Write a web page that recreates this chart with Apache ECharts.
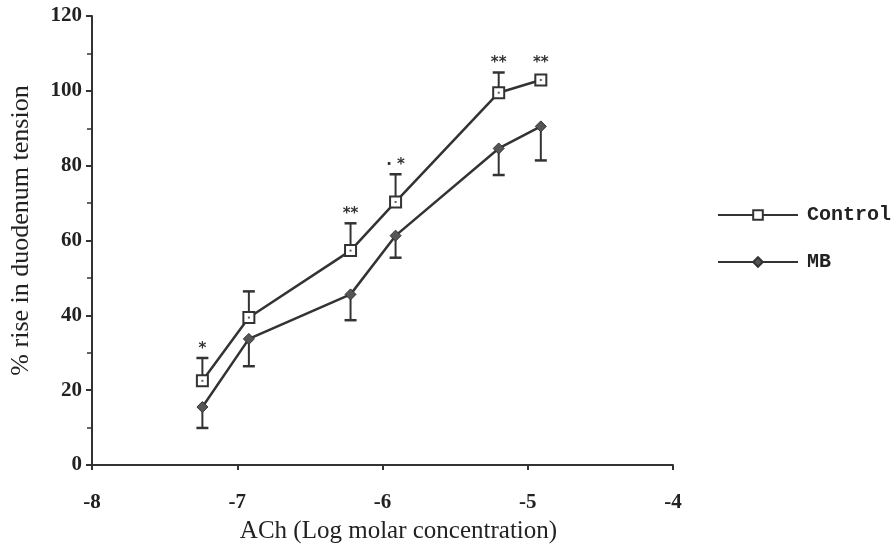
<!DOCTYPE html>
<html>
<head>
<meta charset="utf-8">
<script src="https://cdn.jsdelivr.net/npm/echarts@6/dist/echarts.min.js"></script>
<style>
  html, body { margin: 0; padding: 0; background: #fff; }
  #chart { width: 896px; height: 549px; }
</style>
</head>
<body>
<div id="chart"></div>
<script>
// ACh log molar concentration of each dose
var doseLog = [-7.24, -6.92, -6.22, -5.91, -5.20, -4.91];
// % rise in duodenum tension
var controlMean = [22.5, 39.4, 57.3, 70.3, 99.5, 102.9];
var controlErrTop = [28.6, 46.4, 64.6, 77.7, 104.9, 102.9];
var mbMean = [15.5, 33.7, 45.6, 61.3, 84.6, 90.5];
var mbErrBottom = [9.9, 26.4, 38.7, 55.4, 77.5, 81.4];
var sigMarks = ['*', '', '**', '· *', '**', '**'];

var xTicks = [-8, -7, -6, -5, -4];
var yTicks = [0, 20, 40, 60, 80, 100, 120];

var ink = '#333';
var serif = '"Liberation Serif", "DejaVu Serif", serif';
var mono = '"Liberation Mono", "DejaVu Sans Mono", monospace';

function pairs(xs, ys) {
    var out = [];
    for (var i = 0; i < xs.length; i++) {
        out.push([xs[i], ys[i]]);
    }
    return out;
}

function errRows(means, ends, labels) {
    var out = [];
    for (var i = 0; i < doseLog.length; i++) {
        out.push([doseLog[i], means[i], ends[i], labels ? labels[i] : '']);
    }
    return out;
}

function renderErr(params, api) {
    var x = api.value(0);
    var p0 = api.coord([x, api.value(1)]);
    var p1 = api.coord([x, api.value(2)]);
    var label = api.value(3);
    var children = [];
    if (Math.abs(p1[1] - p0[1]) > 1) {
        children.push({
            type: 'line',
            shape: { x1: p0[0], y1: p0[1], x2: p1[0], y2: p1[1] },
            style: { stroke: ink, lineWidth: 2 }
        });
        children.push({
            type: 'line',
            shape: { x1: p1[0] - 6, y1: p1[1], x2: p1[0] + 6, y2: p1[1] },
            style: { stroke: ink, lineWidth: 2.5 }
        });
    }
    if (label) {
        var ty = Math.min(p1[1] - 9, p0[1] - 17);
        children.push({
            type: 'text',
            style: {
                x: p1[0], y: ty, text: label,
                fill: ink, font: 'bold 15px "DejaVu Sans", sans-serif',
                align: 'center', verticalAlign: 'middle'
            }
        });
    }
    return { type: 'group', children: children };
}

var myChart = echarts.init(document.getElementById('chart'));

var option = {
    backgroundColor: '#fff',
    animation: false,
    grid: { left: 91, right: 223, top: 16, bottom: 82 },
    legend: {
        orient: 'vertical',
        left: 712,
        top: 200,
        itemWidth: 80,
        itemHeight: 12,
        itemGap: 27,
        textStyle: { fontFamily: mono, fontWeight: 'bold', fontSize: 20, color: '#222', padding: [0, 0, 0, 4] },
        data: ['Control', 'MB']
    },
    xAxis: {
        type: 'value',
        min: xTicks[0],
        max: xTicks[xTicks.length - 1],
        interval: 1,
        name: 'ACh (Log molar concentration)',
        nameLocation: 'middle',
        nameGap: 54,
        nameTextStyle: { fontFamily: serif, fontSize: 25, color: '#222', padding: [0, 0, 0, 32] },
        axisLine: { lineStyle: { color: ink, width: 2 } },
        axisTick: { show: true, length: 5, lineStyle: { color: ink, width: 2 } },
        axisLabel: { fontFamily: serif, fontSize: 21, fontWeight: 'bold', color: '#222', margin: 27 },
        splitLine: { show: false }
    },
    yAxis: {
        type: 'value',
        min: yTicks[0],
        max: yTicks[yTicks.length - 1],
        interval: 20,
        name: '% rise in duodenum tension',
        nameLocation: 'middle',
        nameGap: 58,
        nameTextStyle: { fontFamily: serif, fontSize: 26, color: '#222', padding: [0, 0, 0, 20] },
        axisLine: { show: true, lineStyle: { color: ink, width: 2 } },
        axisTick: { show: true, length: 6, lineStyle: { color: ink, width: 2 } },
        minorTick: { show: true, splitNumber: 2, length: 5, lineStyle: { color: ink, width: 1.5 } },
        axisLabel: { fontFamily: serif, fontSize: 21, fontWeight: 'bold', color: '#222', margin: 10 },
        splitLine: { show: false }
    },
    series: [
        {
            type: 'custom',
            name: 'controlErr',
            z: 1,
            renderItem: renderErr,
            encode: { x: 0, y: [1, 2] },
            data: errRows(controlMean, controlErrTop, sigMarks)
        },
        {
            type: 'custom',
            name: 'mbErr',
            z: 1,
            renderItem: renderErr,
            encode: { x: 0, y: [1, 2] },
            data: errRows(mbMean, mbErrBottom, null)
        },
        {
            type: 'line',
            name: 'Control',
            z: 3,
            data: pairs(doseLog, controlMean),
            symbol: 'rect',
            symbolSize: 11,
            lineStyle: { color: ink, width: 2.5 },
            itemStyle: { color: '#fff', borderColor: ink, borderWidth: 2 }
        },
        {
            type: 'scatter',
            name: 'controlDot',
            z: 4,
            data: pairs(doseLog, controlMean),
            symbol: 'rect',
            symbolSize: 2,
            itemStyle: { color: ink },
            silent: true
        },
        {
            type: 'line',
            name: 'MB',
            z: 3,
            data: pairs(doseLog, mbMean),
            symbol: 'diamond',
            symbolSize: 11,
            lineStyle: { color: ink, width: 2.5 },
            itemStyle: { color: '#555', borderColor: ink, borderWidth: 1 }
        }
    ]
};

myChart.setOption(option);
</script>
</body>
</html>
